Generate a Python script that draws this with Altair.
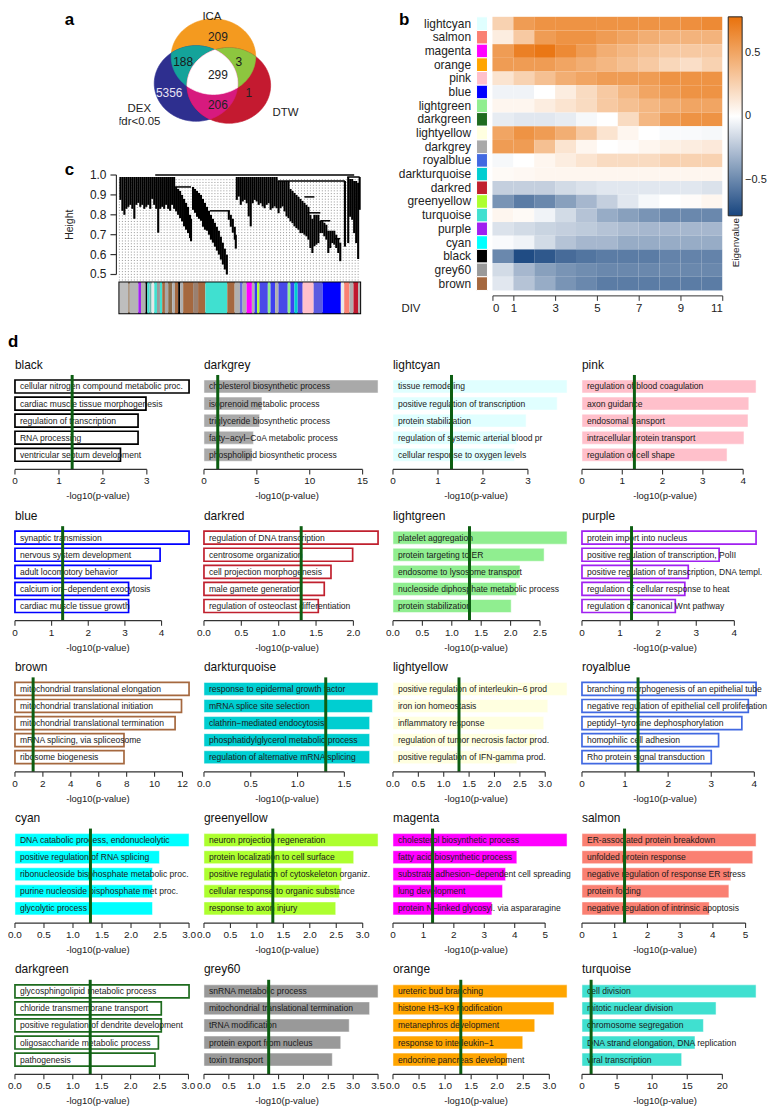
import altair as alt
import numpy as np
import pandas as pd

FONT = "Liberation Sans"
TXT = "#1a1a1a"
SIG_GREEN = "#0d5e12"
SIG_LINE = 1.301  # -log10(0.05)

# ---------------- panel a : Venn diagram (reference pixel units) ----------------
venn_sets = ["ICA", "DEX", "DTW"]
venn_cx = [212.5, 195.0, 228.0]
venn_cy = [53.0, 80.0, 82.0]
venn_rx = [42.5, 42.0, 42.0]
venn_ry = [38.0, 38.0, 38.0]
venn_colors = ["#F49A1F", "#2E2F8F", "#C41A30"]
venn_pairs = [(0, 1), (0, 2), (1, 2)]
venn_pair_colors = ["#14A39A", "#8DC63F", "#D71A7E"]
venn_center_color = "#FFFFFF"
venn_counts = ["209", "188", "3", "299", "5356", "1", "206"]
venn_count_x = [217, 182, 238, 217, 168, 248, 217]
venn_count_y = [33, 58, 58, 71, 90, 90, 102]
venn_count_colors = ["#222222", "#1a1a1a", "#1a1a1a", "#222222", "#E8E2F2", "#222222", "#222222"]
venn_labels = ["ICA", "DEX", "fdr<0.05", "DTW"]
venn_label_x = [211, 138, 138, 285]
venn_label_y = [13, 106, 119, 110]

# ---------------- panel b : module eigengene heatmap ----------------
heat_modules = ["lightcyan", "salmon", "magenta", "orange", "pink", "blue", "lightgreen",
                "darkgreen", "lightyellow", "darkgrey", "royalblue", "darkturquoise", "darkred",
                "greenyellow", "turquoise", "purple", "cyan", "black", "grey60", "brown"]
div_edges = [0, 1, 2, 3, 4, 5, 6, 7, 8, 9, 10, 11]
div_ticks = [0, 1, 3, 5, 7, 9, 11]
eig_lightcyan = [0.25, 0.55, 0.60, 0.60, 0.60, 0.60, 0.60, 0.60, 0.60, 0.62, 0.65]
eig_salmon = [0.10, 0.30, 0.55, 0.60, 0.60, 0.55, 0.50, 0.45, 0.42, 0.42, 0.42]
eig_magenta = [0.55, 0.70, 0.75, 0.65, 0.55, 0.45, 0.40, 0.35, 0.30, 0.30, 0.30]
eig_orange = [0.55, 0.55, 0.55, 0.50, 0.45, 0.40, 0.35, 0.30, 0.22, 0.18, 0.25]
eig_pink = [0.15, 0.25, 0.35, 0.45, 0.50, 0.55, 0.55, 0.55, 0.60, 0.60, 0.60]
eig_blue = [-0.05, -0.05, 0.00, 0.10, 0.20, 0.30, 0.40, 0.50, 0.55, 0.60, 0.60]
eig_lightgreen = [0.05, 0.05, 0.10, 0.15, 0.20, 0.30, 0.35, 0.40, 0.45, 0.50, 0.50]
eig_darkgreen = [-0.08, -0.10, -0.10, -0.08, -0.03, 0.00, 0.20, 0.40, 0.55, 0.60, 0.60]
eig_lightyellow = [0.50, 0.60, 0.55, 0.45, 0.30, 0.15, 0.05, 0.00, -0.02, -0.02, -0.03]
eig_darkgrey = [0.55, 0.55, 0.35, 0.15, 0.05, 0.00, 0.02, 0.05, 0.08, 0.10, 0.12]
eig_royalblue = [-0.03, 0.00, 0.05, 0.10, 0.15, 0.20, 0.20, 0.20, 0.25, 0.25, 0.25]
eig_darkturquoise = [0.03, 0.04, 0.05, 0.05, 0.05, 0.05, 0.05, 0.05, 0.05, 0.05, 0.05]
eig_darkred = [-0.20, -0.20, -0.20, -0.15, -0.12, -0.10, -0.10, -0.10, -0.10, -0.10, -0.12]
eig_greenyellow = [-0.45, -0.55, -0.50, -0.40, -0.30, -0.20, -0.10, -0.03, 0.00, 0.02, 0.05]
eig_turquoise = [0.05, 0.03, -0.05, -0.15, -0.25, -0.35, -0.40, -0.45, -0.50, -0.50, -0.50]
eig_purple = [-0.12, -0.15, -0.18, -0.20, -0.22, -0.25, -0.28, -0.30, -0.30, -0.30, -0.30]
eig_cyan = [-0.02, -0.05, -0.15, -0.25, -0.30, -0.30, -0.35, -0.35, -0.35, -0.35, -0.35]
eig_black = [-0.50, -0.75, -0.70, -0.62, -0.58, -0.55, -0.55, -0.55, -0.52, -0.52, -0.52]
eig_grey60 = [-0.15, -0.30, -0.40, -0.45, -0.48, -0.50, -0.50, -0.50, -0.50, -0.50, -0.50]
eig_brown = [-0.10, -0.25, -0.35, -0.45, -0.50, -0.55, -0.55, -0.55, -0.55, -0.55, -0.55]
eig_rows = [eig_lightcyan, eig_salmon, eig_magenta, eig_orange, eig_pink, eig_blue,
            eig_lightgreen, eig_darkgreen, eig_lightyellow, eig_darkgrey, eig_royalblue,
            eig_darkturquoise, eig_darkred, eig_greenyellow, eig_turquoise, eig_purple,
            eig_cyan, eig_black, eig_grey60, eig_brown]
eig_legend_ticks = [-0.5, 0, 0.5]

module_colors = {
    "black": "#000000", "darkgrey": "#A9A9A9", "lightcyan": "#E0FFFF", "pink": "#FFC0CB",
    "blue": "#0000FF", "darkred": "#C0202E", "lightgreen": "#90EE90", "purple": "#A020F0",
    "brown": "#A5683F", "darkturquoise": "#00CED1", "lightyellow": "#FFFFE0",
    "royalblue": "#4169E1", "cyan": "#00FFFF", "greenyellow": "#ADFF2F", "magenta": "#FF00FF",
    "salmon": "#FA8072", "darkgreen": "#1E6B1E", "grey60": "#999999", "orange": "#FFA500",
    "turquoise": "#40E0D0",
}

# ---------------- panel c : dendrogram (leaf position units, height) ----------------
leaf_x = [1, 3, 5, 7, 9, 11, 13, 15, 17, 19, 21, 23, 25, 27, 29, 31, 33, 35, 37, 39, 41, 43, 45, 47, 49, 51, 53, 55,
          57, 59, 61, 63, 65, 67, 69, 71, 72,
          74, 76, 78, 80, 82, 84, 86, 88, 90, 92, 94, 96, 98, 100, 102, 104, 106, 108,
          110, 112, 114, 116, 117,
          118, 120, 122, 124, 126, 128, 130, 132, 134, 136, 138, 140, 142, 144, 146, 148, 150, 152, 154, 156,
          158, 160, 162, 164, 166, 168, 170,
          172, 174, 176, 178, 180, 182, 184, 186, 188, 190, 192, 194, 196, 198, 200, 202, 204, 206, 208, 210,
          212, 214, 216, 218, 220, 222,
          226.7, 230, 232, 234, 236, 238, 240, 241.5]
leaf_top = [0.99] * 28 + \
           [0.94, 0.93, 0.92, 0.90, 0.88, 0.86, 0.84, 0.80, 0.78] + \
           [0.94, 0.93, 0.92, 0.91, 0.90, 0.88, 0.86, 0.84, 0.82, 0.80, 0.78, 0.76, 0.74, 0.72, 0.69, 0.66, 0.63, 0.60] + \
           [0.82, 0.80, 0.78, 0.74, 0.70] + \
           [0.99] * 21 + [0.97] * 6 + \
           [0.93, 0.92, 0.91, 0.90, 0.89, 0.88, 0.87, 0.86, 0.85, 0.84, 0.80, 0.78, 0.80, 0.80, 0.80, 0.77,
            0.77, 0.76, 0.75, 0.72, 0.72, 0.72, 0.72, 0.70, 0.68, 0.66] + \
           [0.97, 0.99, 0.98, 0.98, 0.97, 0.97, 0.96, 0.99]
leaf_bottom = [0.875, 0.82, 0.80, 0.83, 0.84, 0.85, 0.83, 0.78, 0.85, 0.86, 0.84, 0.85, 0.83, 0.84, 0.85, 0.83,
               0.88, 0.85, 0.83, 0.71, 0.83, 0.84, 0.83, 0.85, 0.83, 0.82, 0.85, 0.83,
               0.817, 0.80, 0.783, 0.767, 0.742, 0.725, 0.708, 0.683, 0.667,
               0.825, 0.81, 0.79, 0.78, 0.77, 0.74, 0.725, 0.72, 0.70, 0.675, 0.66, 0.64, 0.62, 0.60, 0.575,
               0.55, 0.525, 0.50,
               0.775, 0.74, 0.71, 0.675, 0.63,
               0.875, 0.892, 0.85, 0.867, 0.875, 0.858, 0.792, 0.742, 0.858, 0.875, 0.867, 0.85, 0.858, 0.842,
               0.833, 0.85, 0.858, 0.825, 0.833, 0.842, 0.833, 0.808, 0.833, 0.842, 0.817, 0.792, 0.783,
               0.767, 0.758, 0.742, 0.733, 0.725, 0.708, 0.708, 0.70, 0.692, 0.675, 0.633, 0.608, 0.642, 0.65,
               0.658, 0.708, 0.708, 0.692, 0.675, 0.608, 0.633, 0.658, 0.65, 0.633, 0.608, 0.567,
               0.64, 0.658, 0.79, 0.775, 0.708, 0.658, 0.578, 0.825]
merge_x1 = [36, 56, 91, 159, 186, 189, 202, 216, 229]
merge_x2 = [236, 72, 111, 226.7, 196, 202, 212, 222, 241.5]
merge_h = [1.0, 0.94, 0.82, 0.97, 0.89, 0.81, 0.77, 0.68, 0.99]
height_ticks = [0.5, 0.6, 0.7, 0.8, 0.9, 1.0]
dot_column_x = list(range(0, 243, 3))  # dotted guide columns behind the tree

seg_start = [0, 9, 10.3, 19, 21.7, 26.3, 28, 30.3, 32.3, 35, 37.7, 40.7, 43, 45.7, 49, 53, 55.7, 59, 61, 64,
             74, 79, 86.3, 108.3, 115.7, 121, 123.7, 127.7, 133, 135.7, 138.3, 140.7, 149, 151.7, 156.3,
             159.7, 169, 171.7, 175.7, 179, 184, 195, 204, 222.3, 225.7, 231, 235, 239.7]
seg_end = seg_start[1:] + [241.7]
seg_color = ["#BEBEBE", "#8B6B4A", "#B5B5B5", "#A020F0", "#B0B0B0", "#000000", "#40E0D0", "#6FB8B0",
             "#E8E8E8", "#40E0D0", "#9A9A9A", "#40E0D0", "#A5683F", "#A8A8A8", "#8B6B4A", "#B0B0B0",
             "#A5683F", "#000000", "#B0B0B0", "#A5683F", "#9A8070", "#A5683F", "#40E0D0", "#A5683F",
             "#B0B0B0", "#6A6AE0", "#B0B0B0", "#FF00FF", "#B0B0B0", "#3A3AF0", "#ADFF2F", "#4A4AE8",
             "#90EE90", "#3F3FEF", "#B0B0B0", "#4848E8", "#90EE90", "#4040F0", "#00CED1", "#4A4AE0",
             "#FFC0CB", "#5A5AE0", "#0000FF", "#E8E8E8", "#FA8072", "#B0B0B0", "#C0182E", "#B0B0B0"]

# ---------------- panel d : GO enrichment per module ----------------
black_terms = ["cellular nitrogen compound metabolic proc.", "cardiac muscle tissue morphogenesis",
               "regulation of transcription", "RNA processing", "ventricular septum development"]
black_logp = [3.96, 2.98, 2.80, 2.80, 2.40]
black_ticks = [0, 1, 2, 3]
darkgrey_terms = ["cholesterol biosynthetic process", "isoprenoid metabolic process",
                  "triglyceride biosynthetic process", "fatty\u2212acyl\u2212CoA metabolic process",
                  "phospholipid biosynthetic process"]
darkgrey_logp = [16.46, 5.48, 5.26, 4.68, 4.55]
darkgrey_ticks = [0, 5, 10, 15]
lightcyan_terms = ["tissue remodeling", "positive regulation of transcription", "protein stabilization",
                   "regulation of systemic arterial blood pr", "cellular response to oxygen levels"]
lightcyan_logp = [3.87, 3.65, 2.96, 2.75, 2.70]
lightcyan_ticks = [0, 1, 2, 3]
pink_terms = ["regulation of blood coagulation", "axon guidance", "endosomal transport",
              "intracellular protein transport", "regulation of cell shape"]
pink_logp = [4.32, 4.14, 4.12, 4.02, 3.60]
pink_ticks = [0, 1, 2, 3, 4]
blue_terms = ["synaptic transmission", "nervous system development", "adult locomotory behavior",
              "calcium ion\u2212dependent exocytosis", "cardiac muscle tissue growth"]
blue_logp = [4.75, 3.96, 3.71, 3.10, 3.10]
blue_ticks = [0, 1, 2, 3, 4]
darkred_terms = ["regulation of DNA transcription", "centrosome organization", "cell projection morphogenesis",
                 "male gamete generation", "regulation of osteoclast differentiation"]
darkred_logp = [2.33, 1.99, 1.70, 1.61, 1.53]
darkred_ticks = [0, 0.5, 1.0, 1.5, 2.0]
lightgreen_terms = ["platelet aggregation", "protein targeting to ER", "endosome to lysosome transport",
                    "nucleoside diphosphate metabolic process", "protein stabilization"]
lightgreen_logp = [2.96, 2.57, 2.16, 2.10, 2.01]
lightgreen_ticks = [0, 0.5, 1.0, 1.5, 2.0, 2.5]
purple_terms = ["protein import into nucleus", "positive regulation of transcription, PolII",
                "positive regulation of transcription, DNA templ.", "regulation of cellular response to heat",
                "regulation of canonical Wnt pathway"]
purple_logp = [4.57, 3.60, 2.79, 2.70, 2.45]
purple_ticks = [0, 1, 2, 3, 4]
brown_terms = ["mitochondrial translational elongation", "mitochondrial translational initiation",
               "mitochondrial translational termination", "mRNA splicing, via spliceosome", "ribosome biogenesis"]
brown_logp = [12.47, 11.93, 11.47, 7.81, 7.81]
brown_ticks = [0, 2, 4, 6, 8, 10, 12]
darkturquoise_terms = ["response to epidermal growth factor", "mRNA splice site selection",
                       "clathrin\u2212mediated endocytosis", "phosphatidylglycerol metabolic process",
                       "regulation of alternative mRNA splicing"]
darkturquoise_logp = [1.86, 1.80, 1.77, 1.77, 1.77]
darkturquoise_ticks = [0, 0.5, 1.0, 1.5]
lightyellow_terms = ["positive regulation of interleukin\u22126 prod", "iron ion homeostasis",
                     "inflammatory response", "regulation of tumor necrosis factor prod.",
                     "positive regulation of IFN-gamma prod."]
lightyellow_logp = [3.43, 3.05, 2.97, 2.83, 2.44]
lightyellow_ticks = [0, 0.5, 1.0, 1.5, 2.0, 2.5, 3.0]
royalblue_terms = ["branching morphogenesis of an epithelial tube",
                   "negative regulation of epithelial cell proliferation",
                   "peptidyl\u2212tyrosine dephosphorylation", "homophilic cell adhesion",
                   "Rho protein signal transduction"]
royalblue_logp = [4.04, 3.86, 3.71, 3.17, 3.00]
royalblue_ticks = [0, 1, 2, 3, 4]
cyan_terms = ["DNA catabolic process, endonucleolytic", "positive regulation of RNA splicing",
              "ribonucleoside bisphosphate metabolic proc.", "purine nucleoside bisphosphate met proc.",
              "glycolytic process"]
cyan_logp = [3.00, 2.49, 2.37, 2.37, 2.37]
cyan_ticks = [0, 0.5, 1.0, 1.5, 2.0, 2.5, 3.0]
greenyellow_terms = ["neuron projection regeneration", "protein localization to cell surface",
                     "positive regulation of cytoskeleton organiz.", "cellular response to organic substance",
                     "response to axon injury"]
greenyellow_logp = [3.29, 2.83, 2.60, 2.56, 2.49]
greenyellow_ticks = [0, 0.5, 1.0, 1.5, 2.0, 2.5, 3.0]
magenta_terms = ["cholesterol biosynthetic process", "fatty acid biosynthetic process",
                 "substrate adhesion\u2212dependent cell spreading", "lung development",
                 "protein N\u2212linked glycosyl. via aspararagine"]
magenta_logp = [5.72, 4.07, 3.70, 3.60, 3.25]
magenta_ticks = [0, 1, 2, 3, 4, 5]
salmon_terms = ["ER-associated protein breakdown", "unfolded protein response",
                "negative regulation of response ER stress", "protein folding",
                "negative regulation of intrinsic apoptosis"]
salmon_logp = [5.32, 5.22, 4.55, 4.49, 3.89]
salmon_ticks = [0, 1, 2, 3, 4, 5]
darkgreen_terms = ["glycosphingolipid metabolic process", "chloride transmembrane transport",
                   "positive regulation of dendrite development", "oligosaccharide metabolic process",
                   "pathogenesis"]
darkgreen_logp = [3.01, 2.53, 2.53, 2.48, 2.42]
darkgreen_ticks = [0, 0.5, 1.0, 1.5, 2.0, 2.5, 3.0]
grey60_terms = ["snRNA metabolic process", "mitochondrial translational termination", "tRNA modification",
                "protein export from nucleus", "toxin transport"]
grey60_logp = [3.50, 3.33, 2.92, 2.75, 2.58]
grey60_ticks = [0, 0.5, 1.0, 1.5, 2.0, 2.5, 3.0, 3.5]
orange_terms = ["ureteric bud branching", "histone H3\u2212K9 modification", "metanephros development",
                "response to interleukin\u22121", "endocrine pancreas development"]
orange_logp = [3.34, 3.09, 2.72, 2.49, 2.19]
orange_ticks = [0, 0.5, 1.0, 1.5, 2.0, 2.5, 3.0]
turquoise_terms = ["cell division", "mitotic nuclear division", "chromosome segregation",
                   "DNA strand elongation, DNA replication", "viral transcription"]
turquoise_logp = [24.8, 19.1, 17.3, 16.1, 14.2]
turquoise_ticks = [0, 5, 10, 15, 20]

outlined_modules = ["black", "blue", "darkred", "purple", "brown", "royalblue", "darkgreen"]

go_panels = [
    ("black", black_terms, black_logp, black_ticks),
    ("darkgrey", darkgrey_terms, darkgrey_logp, darkgrey_ticks),
    ("lightcyan", lightcyan_terms, lightcyan_logp, lightcyan_ticks),
    ("pink", pink_terms, pink_logp, pink_ticks),
    ("blue", blue_terms, blue_logp, blue_ticks),
    ("darkred", darkred_terms, darkred_logp, darkred_ticks),
    ("lightgreen", lightgreen_terms, lightgreen_logp, lightgreen_ticks),
    ("purple", purple_terms, purple_logp, purple_ticks),
    ("brown", brown_terms, brown_logp, brown_ticks),
    ("darkturquoise", darkturquoise_terms, darkturquoise_logp, darkturquoise_ticks),
    ("lightyellow", lightyellow_terms, lightyellow_logp, lightyellow_ticks),
    ("royalblue", royalblue_terms, royalblue_logp, royalblue_ticks),
    ("cyan", cyan_terms, cyan_logp, cyan_ticks),
    ("greenyellow", greenyellow_terms, greenyellow_logp, greenyellow_ticks),
    ("magenta", magenta_terms, magenta_logp, magenta_ticks),
    ("salmon", salmon_terms, salmon_logp, salmon_ticks),
    ("darkgreen", darkgreen_terms, darkgreen_logp, darkgreen_ticks),
    ("grey60", grey60_terms, grey60_logp, grey60_ticks),
    ("orange", orange_terms, orange_logp, orange_ticks),
    ("turquoise", turquoise_terms, turquoise_logp, turquoise_ticks),
]

# =====================================================================
ONE = pd.DataFrame({"k": [0]})


def letter(ch, x, y):
    return alt.Chart(ONE).mark_text(text=ch, fontSize=17, fontWeight="bold", align="left",
                                    baseline="top", color="#000").encode(
        x=alt.value(x), y=alt.value(y))


# ---------- Venn ----------
def ellipse_ring(i, n=160):
    t = np.linspace(0, 2 * np.pi, n, endpoint=False)
    return [[float(venn_cx[i] + venn_rx[i] * np.cos(a)), float(venn_cy[i] + venn_ry[i] * np.sin(a))] for a in t]


def signed_area(poly):
    s = 0.0
    for k in range(len(poly)):
        x1, y1 = poly[k]
        x2, y2 = poly[(k + 1) % len(poly)]
        s += x1 * y2 - x2 * y1
    return s / 2


def clip_convex(subject, clipper):
    sgn = 1.0 if signed_area(clipper) > 0 else -1.0

    def inside(p, a, b):
        return sgn * ((b[0] - a[0]) * (p[1] - a[1]) - (b[1] - a[1]) * (p[0] - a[0])) >= 0

    def cross_pt(p, q, a, b):
        x1, y1, x2, y2 = p[0], p[1], q[0], q[1]
        x3, y3, x4, y4 = a[0], a[1], b[0], b[1]
        den = (x1 - x2) * (y3 - y4) - (y1 - y2) * (x3 - x4)
        t = ((x1 - x3) * (y3 - y4) - (y1 - y3) * (x3 - x4)) / den
        return [x1 + t * (x2 - x1), y1 + t * (y2 - y1)]

    out = subject
    for k in range(len(clipper)):
        a, b = clipper[k], clipper[(k + 1) % len(clipper)]
        inp, out = out, []
        if not inp:
            break
        s = inp[-1]
        for e in inp:
            if inside(e, a, b):
                if not inside(s, a, b):
                    out.append(cross_pt(s, e, a, b))
                out.append(e)
            elif inside(s, a, b):
                out.append(cross_pt(s, e, a, b))
            s = e
    return out


def feature(ring, color):
    ring = [list(p) for p in ring] + [list(ring[0])]
    return {"type": "Feature", "properties": {"fill": color},
            "geometry": {"type": "Polygon", "coordinates": [ring]}}


rings = [ellipse_ring(i) for i in range(3)]
features = [feature(rings[i], venn_colors[i]) for i in range(3)]
for (i, j), col in zip(venn_pairs, venn_pair_colors):
    features.append(feature(clip_convex(rings[i], rings[j]), col))
features.append(feature(clip_convex(clip_convex(rings[0], rings[1]), rings[2]), venn_center_color))

proj = alt.Projection(type="identity", scale=1, translate=[-118, -8])
venn_shapes = alt.Chart(alt.Data(values=features)).mark_geoshape(strokeWidth=0.6).encode(
    fill=alt.Fill("properties.fill:N", scale=None),
    stroke=alt.Stroke("properties.fill:N", scale=None),
).properties(projection=proj)
venn_num = alt.Chart(pd.DataFrame({"t": venn_counts, "x": venn_count_x, "y": venn_count_y,
                                   "c": venn_count_colors})).mark_text(fontSize=12).encode(
    longitude="x:Q", latitude="y:Q", text="t:N", color=alt.Color("c:N", scale=None)
).properties(projection=proj)
venn_lab = alt.Chart(pd.DataFrame({"t": venn_labels, "x": venn_label_x, "y": venn_label_y})).mark_text(
    fontSize=11.5, color="#222").encode(longitude="x:Q", latitude="y:Q", text="t:N").properties(projection=proj)
venn = alt.layer(venn_shapes, venn_num, venn_lab).properties(width=242, height=162)

# ---------- dendrogram ----------
dend_xs = alt.Scale(domain=[0, 242], nice=False, zero=False)
dend_ys = alt.Scale(domain=[0.47, 1.0], nice=False, zero=False)
leaves = pd.DataFrame({"x": leaf_x, "top": leaf_top, "bot": leaf_bottom})
merges = pd.DataFrame({"x1": merge_x1, "x2": merge_x2, "h": merge_h})
dots = pd.DataFrame({"x": dot_column_x})
hticks = pd.DataFrame({"v": height_ticks, "lab": [f"{v:.1f}" for v in height_ticks]})

dot_layer = alt.Chart(dots).mark_rule(color="#8c8c8c", strokeWidth=0.9, strokeDash=[1, 1.8]).encode(
    x=alt.X("x:Q", scale=dend_xs, axis=None),
    y=alt.Y("y0:Q", scale=dend_ys, axis=None), y2="y1:Q",
).transform_calculate(y0="0.47", y1="0.985")
leaf_layer = alt.Chart(leaves).mark_rule(color="black", strokeWidth=2.1).encode(
    x=alt.X("x:Q", scale=dend_xs, axis=None),
    y=alt.Y("top:Q", scale=dend_ys, axis=None), y2="bot:Q")
merge_layer = alt.Chart(merges).mark_rule(color="black", strokeWidth=1.5).encode(
    x=alt.X("x1:Q", scale=dend_xs, axis=None), x2="x2:Q", y=alt.Y("h:Q", scale=dend_ys, axis=None))
h_domain = alt.Chart(hticks).mark_rule(color="#333", strokeWidth=1.2).encode(
    x=alt.value(-3), y=alt.Y("min(v):Q", scale=dend_ys, axis=None), y2="max(v):Q")
h_ticks = alt.Chart(hticks).mark_rule(color="#333", strokeWidth=1.2).encode(
    x=alt.value(-9), x2=alt.value(-3), y=alt.Y("v:Q", scale=dend_ys, axis=None))
h_labels = alt.Chart(hticks).mark_text(align="right", baseline="middle", fontSize=12, color="#222").encode(
    x=alt.value(-13), y=alt.Y("v:Q", scale=dend_ys, axis=None), text="lab:N")
h_title = alt.Chart(ONE).mark_text(text="Height", angle=270, fontSize=10.5, color="#222").encode(
    x=alt.value(-50), y=alt.value(50))
dendro = alt.layer(dot_layer, leaf_layer, merge_layer, h_domain, h_ticks, h_labels, h_title,
                   letter("a", -55, -164), letter("c", -55, -13)).properties(width=242, height=106)

cbar_df = pd.DataFrame({"s": seg_start, "e": seg_end, "c": seg_color})
cbar = alt.Chart(cbar_df).mark_rect().encode(
    x=alt.X("s:Q", scale=alt.Scale(domain=[0, 241.7], nice=False, zero=False), axis=None),
    x2="e:Q", y=alt.value(0), y2=alt.value(31), fill=alt.Fill("c:N", scale=None),
).properties(width=242, height=31, view=alt.ViewBackground(stroke="black", strokeWidth=2))

leftcol = alt.vconcat(venn, dendro, cbar, spacing=2, bounds="flush")

# ---------- heatmap ----------
heat_records = []
for m, vals in zip(heat_modules, eig_rows):
    for k, v in enumerate(vals):
        heat_records.append({"module": m, "s": div_edges[k], "e": div_edges[k + 1], "v": v})
heat_df = pd.DataFrame(heat_records)
row_scale = alt.Scale(domain=heat_modules, paddingInner=0, paddingOuter=0.36)

swatch_df = pd.DataFrame({"module": heat_modules, "c": [module_colors[m] for m in heat_modules]})
swatch = alt.layer(
    alt.Chart(swatch_df).mark_rect(stroke="white", strokeWidth=1).encode(
        y=alt.Y("module:N", scale=row_scale, axis=alt.Axis(title=None, ticks=False, domain=False, labelFontSize=12,
                                                           labelPadding=6, labelColor="#222")),
        x=alt.value(0), x2=alt.value(11), fill=alt.Fill("c:N", scale=None)),
    letter("b", -78, 0),
).properties(width=11, height=285)

heat_rect = alt.Chart(heat_df).mark_rect().encode(
    x=alt.X("s:Q", scale=alt.Scale(domain=[0, 11], nice=False, zero=False),
            axis=alt.Axis(values=div_ticks, title="DIV", titleAngle=0, titleX=-92, titleY=13, titleAlign="left",
                          titleBaseline="middle", titleFontSize=11.5, titleFontWeight="normal", titleColor="#222",
                          labelFontSize=11.5, labelColor="#222", tickSize=5, tickColor="#333", domainColor="#333",
                          labelPadding=2, grid=False)),
    x2="e:Q",
    y=alt.Y("module:N", scale=row_scale, axis=None),
    color=alt.Color("v:Q", scale=alt.Scale(domain=[-0.78, 0, 0.78], range=["#17457F", "#FFFFFF", "#E9720C"],
                                           interpolate="rgb"),
                    legend=alt.Legend(orient="none", legendX=237, legendY=5, direction="vertical",
                                      gradientLength=200, gradientThickness=14, title=None,
                                      values=eig_legend_ticks, format="~g", labelFontSize=11,
                                      labelColor="#222", gradientStrokeColor="#222", gradientStrokeWidth=1,
                                      labelOffset=3)),
)
eig_title = alt.Chart(ONE).mark_text(text="Eigenvalue", angle=270, fontSize=10, color="#222").encode(
    x=alt.value(245), y=alt.value(232))
heat = alt.layer(heat_rect, eig_title).properties(width=231, height=285)

b_block = alt.hconcat(swatch, heat, spacing=5, bounds="flush").resolve_scale(color="independent")

spacer = alt.Chart(ONE).mark_point(opacity=0).encode(
    x=alt.X("k:Q", axis=None), y=alt.Y("k:Q", axis=None)).properties(width=13, height=10)

top_row = alt.hconcat(spacer, leftcol, b_block, spacing=37).resolve_scale(color="independent")


# ---------- GO panels ----------
def go_panel(name, terms, vals, ticks):
    W, H = 175, 92
    col = module_colors[name]
    df = pd.DataFrame({"rank": list(range(len(terms))), "term": terms, "logp": vals})
    decimals = any(float(t) != int(t) for t in ticks)
    tdf = pd.DataFrame({"t": ticks, "lab": [f"{t:.1f}" if decimals else f"{int(t)}" for t in ticks]})
    xs = alt.Scale(domain=[0, max(vals)], nice=False, zero=True)
    ys = alt.Scale(domain=list(range(len(terms))), paddingInner=0.24, paddingOuter=0.3, align=0.2)
    if name in outlined_modules:
        bar_kw = dict(fill="white", stroke=col, strokeWidth=1.7)
    else:
        bar_kw = dict(fill=col, stroke="white", strokeWidth=0.5)
    bars = alt.Chart(df).mark_bar(**bar_kw).encode(
        x=alt.X("logp:Q", scale=xs, axis=None),
        y=alt.Y("rank:O", scale=ys, axis=None))
    txt = alt.Chart(df).mark_text(align="left", baseline="middle", dx=5, fontSize=8.6, color=TXT).encode(
        x=alt.X("zero:Q", scale=xs, axis=None), y=alt.Y("rank:O", scale=ys, axis=None), text="term:N"
    ).transform_calculate(zero="0")
    sig = alt.Chart(ONE).mark_rule(color=SIG_GREEN, strokeWidth=3).encode(
        x=alt.X("s:Q", scale=xs, axis=None), y=alt.value(-3), y2=alt.value(H)
    ).transform_calculate(s=str(SIG_LINE))
    axline = alt.Chart(tdf).mark_rule(color="#333", strokeWidth=1.2).encode(
        x=alt.X("min(t):Q", scale=xs, axis=None), x2="max(t):Q", y=alt.value(H))
    tickm = alt.Chart(tdf).mark_rule(color="#333", strokeWidth=1.1).encode(
        x=alt.X("t:Q", scale=xs, axis=None), y=alt.value(H), y2=alt.value(H + 5))
    tickl = alt.Chart(tdf).mark_text(baseline="top", fontSize=10, color=TXT).encode(
        x=alt.X("t:Q", scale=xs, axis=None), y=alt.value(H + 7), text="lab:N")
    xtitle = alt.Chart(ONE).mark_text(text="-log10(p-value)", baseline="top", fontSize=9.5, color=TXT).encode(
        x=alt.value(W / 2 - 4), y=alt.value(H + 22))
    return alt.layer(bars, txt, sig, axline, tickm, tickl, xtitle).properties(
        width=W, height=H,
        title=alt.Title(name, anchor="start", frame="group", fontSize=12, fontWeight="normal", offset=2,
                        color="#111"))


panels = [go_panel(n, t, v, tk) for (n, t, v, tk) in go_panels]
grid = alt.concat(*panels, columns=4, spacing={"row": 60, "column": 15}, bounds="flush").properties(
    title=alt.Title("d", anchor="start", fontSize=17, fontWeight="bold", offset=8, color="#000", font=FONT))

chart = alt.vconcat(top_row, grid, spacing=18).resolve_scale(color="independent").properties(
    padding=0).configure(font=FONT).configure_view(stroke=None).configure_title(font=FONT)

chart.save("out.html", embed_options={"renderer": "svg", "actions": False})
